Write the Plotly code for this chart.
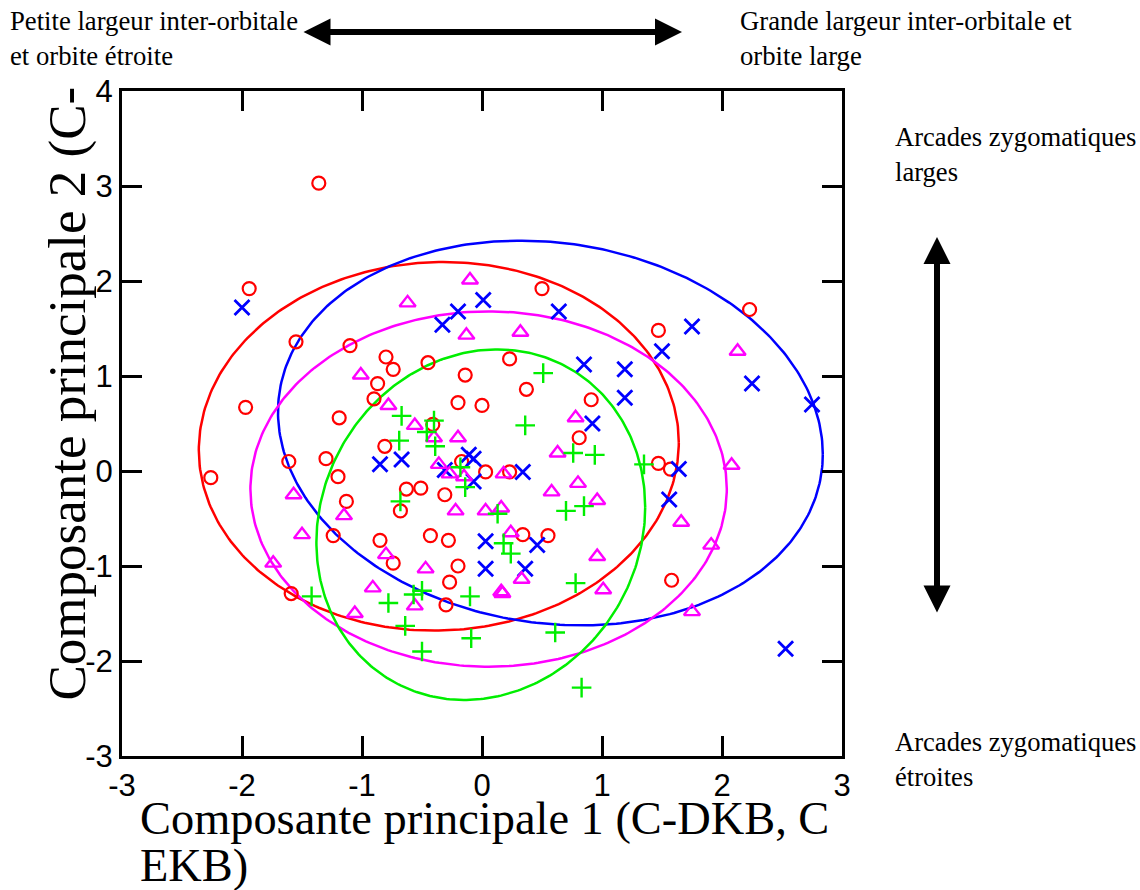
import numpy as np
import plotly.graph_objects as go

# ---------------- data ----------------
red_x = [-1.36, -1.94, -1.55, -1.10, -0.80, -0.74, -0.45, -0.14, -0.87, -0.90, -0.20, 0.00,
         -1.97, -1.19, -0.41, -0.81, -1.61, -1.30, -0.17, 0.03, -2.26, -1.20, 0.50, 2.23,
         1.47, 0.23, 0.37, 0.91, 0.81, 1.47, 1.57, 0.23, 0.34, 0.55, 1.58, -0.63, -0.51,
         -0.31, -1.13, -0.68, -1.24, -0.85, -0.43, -0.28, -0.74, -0.20, -0.27, -1.59, -0.30]
red_y = [3.03, 1.92, 1.36, 1.32, 1.20, 1.07, 1.14, 1.01, 0.92, 0.76, 0.72, 0.69,
         0.67, 0.56, 0.49, 0.26, 0.10, 0.13, 0.10, -0.01, -0.07, -0.06, 1.92, 1.70,
         1.48, 1.18, 0.86, 0.75, 0.35, 0.08, 0.02, -0.01, -0.67, -0.68, -1.15, -0.19, -0.18,
         -0.25, -0.32, -0.42, -0.68, -0.73, -0.68, -0.73, -0.97, -1.00, -1.17, -1.29, -1.41]

blue_x = [-2.00, -0.33, -0.20, 0.01, 0.64, 1.75, 1.50, 0.85, 1.19, 2.25, 1.19, 2.75, 0.92,
          -0.85, -0.67, -0.11, -0.07, -0.31, -0.07, 0.34, 1.64, 1.56, 0.03, 0.46, 0.03, 0.36, 2.53]
blue_y = [1.72, 1.54, 1.68, 1.80, 1.68, 1.52, 1.26, 1.12, 1.07, 0.92, 0.77, 0.70, 0.50,
          0.07, 0.12, 0.17, 0.13, 0.01, -0.11, -0.01, 0.02, -0.30, -0.74, -0.78, -1.03, -1.03, -1.87]

mag_x = [-0.10, -0.62, -0.13, 0.32, -1.01, 2.13, -0.78, 0.78, -0.56, -0.40, -0.20, 0.63,
         -0.36, -0.27, -0.15, 0.18, 2.08, 0.80, 0.58, 0.96, -1.57, -1.15, -0.22, 0.03, 0.16,
         0.24, 1.66, 1.91, -1.50, -0.80, 0.96, -1.74, -0.47, 0.33, 0.16, 0.17, 1.01, -0.91,
         -0.56, -1.06, 1.75]
mag_y = [2.01, 1.77, 1.43, 1.46, 1.01, 1.26, 0.69, 0.56, 0.48, 0.35, 0.35, 0.19,
         0.07, -0.03, -0.06, -0.03, 0.06, -0.13, -0.22, -0.31, -0.25, -0.47, -0.42, -0.42, -0.39,
         -0.65, -0.54, -0.78, -0.67, -0.88, -0.90, -0.97, -1.03, -1.14, -1.27, -1.29, -1.25, -1.23,
         -1.42, -1.50, -1.48]

green_x = [-0.67, -0.40, -0.46, -0.69, -0.39, -0.18, -0.14, -0.68, 0.13, 0.51, 0.36, 0.76,
           0.94, 1.35, 0.70, 0.85, 0.18, 0.24, 0.78, 0.61, 0.83, -0.10, -0.50, -0.57, -0.78,
           -1.42, -0.64, -0.09, -0.50]
green_y = [0.58, 0.53, 0.41, 0.32, 0.26, 0.04, -0.17, -0.32, -0.45, 1.03, 0.48, 0.19,
           0.17, 0.07, -0.42, -0.37, -0.76, -0.87, -1.18, -1.70, -2.28, -1.32, -1.26, -1.30, -1.39,
           -1.32, -1.63, -1.76, -1.90]

# ellipse parameters: centre x, centre y, half extent x, half extent y, correlation
ell_red = [-0.36, 0.26, 2.00, 1.94, 0.02]
ell_blue = [0.57, 0.40, 2.27, 2.025, -0.11]
ell_mag = [0.055, -0.19, 1.985, 1.87, 0.0]
ell_green = [-0.01, -0.565, 1.37, 1.845, 0.10]

x_ticks = [-3, -2, -1, 0, 1, 2, 3]
y_ticks = [-3, -2, -1, 0, 1, 2, 3, 4]

RED, BLUE, MAG, GREEN = "#ff0000", "#0000ff", "#ff00ff", "#00ee00"

W, H = 1140, 890
L, R, T, B = 122, 842, 91, 756


def ellipse(p, n=361):
    cx, cy, sx, sy, r = p
    t = np.linspace(0, 2 * np.pi, n)
    return cx + sx * np.cos(t), cy + sy * (r * np.cos(t) + np.sqrt(1 - r * r) * np.sin(t))


def px(xp):
    return (xp - L) / (R - L)


def py(yp):
    return (B - yp) / (B - T)


fig = go.Figure()
for p, c in [(ell_red, RED), (ell_blue, BLUE), (ell_mag, MAG), (ell_green, GREEN)]:
    ex, ey = ellipse(p)
    fig.add_trace(go.Scatter(x=ex, y=ey, mode="lines", line=dict(color=c, width=2.5),
                             hoverinfo="skip", showlegend=False))

fig.add_trace(go.Scatter(x=red_x, y=red_y, mode="markers", showlegend=False,
                         marker=dict(symbol="circle-open", size=13, color=RED, line=dict(width=2.2, color=RED))))
fig.add_trace(go.Scatter(x=blue_x, y=blue_y, mode="markers", showlegend=False,
                         marker=dict(symbol="x-thin-open", size=15, color=BLUE, line=dict(width=2.8, color=BLUE))))
fig.add_trace(go.Scatter(x=mag_x, y=mag_y, mode="markers", showlegend=False,
                         marker=dict(symbol="triangle-up-open", size=14, color=MAG, line=dict(width=2.4, color=MAG))))
fig.add_trace(go.Scatter(x=green_x, y=green_y, mode="markers", showlegend=False,
                         marker=dict(symbol="cross-thin-open", size=14, color=GREEN, line=dict(width=2.4, color=GREEN))))

axis_common = dict(showgrid=False, zeroline=False, showline=True, linecolor="black", linewidth=3,
                   mirror="ticks", ticks="inside", ticklen=20, tickwidth=2.5, tickcolor="black",
                   tickfont=dict(family="Liberation Sans, Arial", size=31, color="black"))

fig.update_layout(
    width=W, height=H,
    margin=dict(l=L, r=W - R, t=T, b=H - B),
    paper_bgcolor="white", plot_bgcolor="white",
    xaxis=dict(range=[-3, 3], tickvals=x_ticks, ticktext=[str(v) for v in x_ticks], **axis_common),
    yaxis=dict(range=[-3, 4], tickvals=y_ticks, ticktext=[str(v) for v in y_ticks], **axis_common),
)

serif = "Liberation Serif, Times New Roman, serif"
anns = []


def txt(text, xp, yp, size, xanchor="left", yanchor="top", angle=0):
    anns.append(dict(text=text, x=px(xp), y=py(yp), xref="paper", yref="paper", showarrow=False,
                     xanchor=xanchor, yanchor=yanchor, align="left", textangle=angle,
                     font=dict(family=serif, size=size, color="black")))


txt("Petite largeur inter-orbitale<br>et orbite étroite", 8, 4, 26.7)
txt("Grande largeur inter-orbitale et<br>orbite large", 738, 4, 26.7)
txt("Arcades zygomatiques<br>larges", 893, 120, 26.6)
txt("Arcades zygomatiques<br>étroites", 893, 725, 26.6)
txt("Composante principale 1 (C-DKB, C", 138, 791, 46.4)
txt("EKB)", 138, 838, 46.4)
txt("Composante principale 2 (C-", 35, 703, 53, yanchor="bottom", angle=-90)

# double arrows (head point, tail offset in pixels)
for (x0, y0, x1, y1) in [(302, 32, 682, 32), (937, 614, 937, 237)]:
    anns.append(dict(x=px(x1), y=py(y1), ax=x0 - x1, ay=y0 - y1, xref="paper", yref="paper",
                     axref="pixel", ayref="pixel", text="", showarrow=True,
                     arrowhead=2, startarrowhead=2, arrowside="end+start", arrowsize=0.9,
                     startarrowsize=0.9, arrowwidth=6, arrowcolor="black", standoff=0, startstandoff=0))

fig.update_layout(annotations=anns)
fig.write_html("out.html")
